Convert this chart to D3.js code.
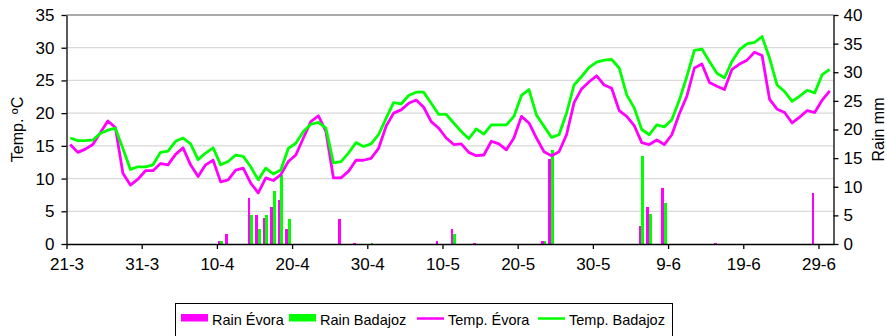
<!DOCTYPE html>
<html>
<head>
<meta charset="utf-8">
<script src="https://cdn.jsdelivr.net/npm/d3@7"></script>
<style>
    body { margin: 0; background: #fff; }
    text { font-family: "Liberation Sans", Arial, sans-serif; fill: #000; }
</style>
</head>
<body>
<svg id="chart" width="887" height="336"></svg>
<script>
/* daily values, 21-3 .. 30-6 */
var tempEvora = [15.2, 14.0, 14.5, 15.2, 17.0, 18.8, 17.8, 10.8, 9.0, 9.9,
    11.2, 11.2, 12.3, 12.1, 13.7, 14.7, 12.1, 10.3, 12.1, 12.8,
    9.5, 9.8, 11.3, 11.6, 9.3, 7.8, 10.1, 9.7, 10.6, 12.6,
    13.6, 16.2, 18.7, 19.6, 17.2, 10.1, 10.1, 11.1, 12.8, 12.8,
    13.1, 14.6, 18.0, 20.0, 20.5, 21.5, 22.0, 20.9, 18.7, 17.7,
    16.2, 15.2, 15.3, 14.0, 13.5, 13.6, 15.7, 15.3, 14.4, 16.2,
    19.5, 18.5, 16.2, 14.1, 13.5, 14.1, 16.7, 21.6, 23.7, 24.8,
    25.7, 24.3, 23.8, 20.4, 19.5, 18.1, 15.5, 15.2, 15.9, 15.2,
    16.7, 19.9, 22.6, 26.9, 27.5, 24.7, 24.1, 23.6, 26.7, 27.5,
    28.1, 29.3, 28.8, 22.1, 20.6, 20.1, 18.5, 19.4, 20.4, 20.1,
    22.0, 23.4];

var tempBadajoz = [16.2, 15.8, 15.8, 15.9, 16.9, 17.4, 17.7, 14.6, 11.4, 11.8,
    11.8, 12.1, 14.0, 14.2, 15.7, 16.2, 15.3, 12.9, 13.9, 14.7,
    12.1, 12.6, 13.6, 13.4, 11.8, 9.8, 11.6, 10.7, 11.3, 14.6,
    15.4, 17.2, 18.3, 18.6, 17.7, 12.4, 12.6, 13.9, 15.5, 14.9,
    15.3, 16.7, 19.2, 21.6, 21.4, 22.7, 23.2, 23.2, 21.5, 19.8,
    19.8, 18.5, 17.2, 16.1, 17.6, 16.8, 18.2, 18.2, 18.2, 19.5,
    22.7, 23.6, 19.7, 18.0, 16.3, 16.7, 20.0, 24.3, 25.6, 27.0,
    27.8, 28.1, 28.2, 26.9, 22.8, 20.8, 17.5, 16.7, 18.2, 17.9,
    19.0, 22.0, 25.6, 29.6, 29.8, 27.9, 26.1, 25.4, 27.9, 29.7,
    30.6, 30.8, 31.7, 28.4, 24.3, 23.3, 21.8, 22.6, 23.5, 23.1,
    25.9, 26.7];

var rainEvora = [0, 0, 0, 0, 0, 0, 0, 0, 0, 0,
    0, 0, 0, 0, 0, 0, 0, 0, 0, 0,
    0.5, 1.8, 0, 0, 8.0, 5.1, 4.6, 6.4, 7.7, 2.6,
    0, 0, 0, 0, 0, 0, 4.3, 0, 0.2, 0,
    0, 0, 0, 0, 0, 0, 0, 0, 0, 0.5,
    0, 2.6, 0, 0, 0.2, 0, 0, 0, 0, 0,
    0, 0, 0, 0.5, 14.8, 0, 0, 0, 0, 0,
    0, 0, 0, 0, 0, 0, 3.1, 6.4, 0, 9.8,
    0, 0, 0, 0, 0, 0, 0.2, 0, 0, 0,
    0, 0, 0, 0, 0, 0, 0, 0, 0, 8.9,
    0, 0];

var rainBadajoz = [0, 0, 0, 0, 0, 0, 0, 0, 0, 0,
    0, 0, 0, 0, 0, 0, 0, 0, 0, 0,
    0.5, 0, 0, 0, 5.1, 2.7, 5.1, 9.3, 12.1, 4.3,
    0, 0, 0, 0, 0, 0, 0, 0, 0, 0,
    0.25, 0, 0, 0, 0, 0, 0, 0, 0, 0,
    0, 1.7, 0, 0, 0, 0, 0, 0, 0, 0,
    0, 0, 0, 0.5, 16.5, 0, 0, 0, 0, 0,
    0, 0, 0, 0, 0, 0, 15.4, 5.2, 0, 7.2,
    0, 0, 0, 0, 0, 0, 0, 0, 0, 0,
    0, 0, 0, 0, 0, 0, 0, 0, 0, 0,
    0, 0];

var tickLabels = ["21-3", "31-3", "10-4", "20-4", "30-4", "10-5", "20-5", "30-5", "9-6", "19-6", "29-6"];
var tempTicks = [0, 5, 10, 15, 20, 25, 30, 35];
var rainTicks = [0, 5, 10, 15, 20, 25, 30, 35, 40];
var seriesNames = ["Rain Évora", "Rain Badajoz", "Temp. Évora", "Temp. Badajoz"];

var PINK = "#ff00ff", GREEN = "#00ff00";
var plotLeft = 66.5, plotRight = 833.5, plotTop = 15, plotBottom = 244;
var nDays = tempEvora.length;

var svg = d3.select("#chart");

var x = d3.scaleLinear().domain([0, nDays]).range([plotLeft, plotRight]);
var yT = d3.scaleLinear().domain([0, 35]).range([plotBottom, plotTop]);
var yR = d3.scaleLinear().domain([0, 40]).range([plotBottom, plotTop]);
var bw = x(1) - x(0);
var inner = d3.scaleBand().domain(["evora", "badajoz"]).range([0, bw])
    .paddingInner(0).paddingOuter(0.38).align(0.35);

/* gridlines */
svg.append("g").selectAll("line")
    .data(tempTicks.filter(function(d) { return d > 0 && d < 35; }))
    .join("line")
    .attr("x1", plotLeft).attr("x2", plotRight)
    .attr("y1", function(d) { return yT(d); })
    .attr("y2", function(d) { return yT(d); })
    .attr("stroke", "#d9d9d9")
    .attr("stroke-width", 1.3);

svg.append("line")
    .attr("x1", plotLeft).attr("x2", plotRight)
    .attr("y1", yT(35)).attr("y2", yT(35))
    .attr("stroke", "#8c8c8c")
    .attr("stroke-width", 1.3);

/* rain bars */
var bars = svg.append("g").attr("shape-rendering", "crispEdges");
bars.selectAll("rect.ev")
    .data(rainEvora.map(function(v, i) { return { i: i, v: v }; }).filter(function(d) { return d.v > 0; }))
    .join("rect")
    .attr("class", "ev")
    .attr("x", function(d) { return x(d.i) + inner("evora"); })
    .attr("width", inner.bandwidth())
    .attr("y", function(d) { return yR(d.v); })
    .attr("height", function(d) { return plotBottom - yR(d.v); })
    .attr("fill", PINK);
bars.selectAll("rect.ba")
    .data(rainBadajoz.map(function(v, i) { return { i: i, v: v }; }).filter(function(d) { return d.v > 0; }))
    .join("rect")
    .attr("class", "ba")
    .attr("x", function(d) { return x(d.i) + inner("badajoz"); })
    .attr("width", inner.bandwidth())
    .attr("y", function(d) { return yR(d.v); })
    .attr("height", function(d) { return plotBottom - yR(d.v); })
    .attr("fill", GREEN);

/* temperature lines */
var line = d3.line()
    .x(function(d, i) { return x(i + 0.5); })
    .y(function(d) { return yT(d); });

svg.append("path").datum(tempEvora)
    .attr("d", line).attr("fill", "none")
    .attr("stroke", PINK).attr("stroke-width", 2.8)
    .attr("stroke-linejoin", "round");
svg.append("path").datum(tempBadajoz)
    .attr("d", line).attr("fill", "none")
    .attr("stroke", GREEN).attr("stroke-width", 2.8)
    .attr("stroke-linejoin", "round");

/* axes */
function styleAxis(g) {
    g.select(".domain").attr("stroke", "#000").attr("stroke-width", 1.3);
    g.selectAll(".tick line").attr("stroke", "#000").attr("stroke-width", 1.3);
    g.selectAll(".tick text").attr("font-size", 17).attr("fill", "#000")
        .attr("font-family", "'Liberation Sans', Arial, sans-serif");
}

svg.append("g").attr("transform", "translate(" + plotLeft + ",0)")
    .call(d3.axisLeft(yT).tickValues(tempTicks).tickSize(5).tickSizeOuter(0).tickPadding(7))
    .call(styleAxis);

svg.append("g").attr("transform", "translate(" + plotRight + ",0)")
    .call(d3.axisRight(yR).tickValues(rainTicks).tickSize(5).tickSizeOuter(0).tickPadding(5))
    .call(styleAxis);

svg.append("g").attr("transform", "translate(0," + plotBottom + ")")
    .call(d3.axisBottom(x).tickValues(d3.range(0, nDays, 10))
        .tickFormat(function(d) { return tickLabels[d / 10]; })
        .tickSize(5).tickSizeOuter(0).tickPadding(9))
    .call(styleAxis);

/* axis titles */
svg.append("text")
    .attr("transform", "translate(23," + ((plotTop + plotBottom) / 2) + ") rotate(-90)")
    .attr("text-anchor", "middle")
    .attr("font-size", 16)
    .text("Temp. ºC");

svg.append("text")
    .attr("transform", "translate(884," + ((plotTop + plotBottom) / 2) + ") rotate(-90)")
    .attr("text-anchor", "middle")
    .attr("font-size", 16)
    .text("Rain mm");

/* legend */
var legend = svg.append("g");
legend.append("rect")
    .attr("x", 175.5).attr("y", 303.5)
    .attr("width", 497).attr("height", 40)
    .attr("fill", "#fff").attr("stroke", "#000").attr("stroke-width", 1);

var legendX = [181, 289, 417, 538];
var legendColors = [PINK, GREEN, PINK, GREEN];
seriesNames.forEach(function(name, k) {
    if (k < 2) {
        legend.append("rect")
            .attr("x", legendX[k]).attr("y", 314)
            .attr("width", 27).attr("height", 7.5)
            .attr("fill", legendColors[k]);
    } else {
        legend.append("line")
            .attr("x1", legendX[k]).attr("x2", legendX[k] + 27)
            .attr("y1", 318.5).attr("y2", 318.5)
            .attr("stroke", legendColors[k]).attr("stroke-width", 2.5);
    }
    legend.append("text")
        .attr("x", legendX[k] + 31).attr("y", 325)
        .attr("font-size", 14.5)
        .text(name);
});
</script>
</body>
</html>
